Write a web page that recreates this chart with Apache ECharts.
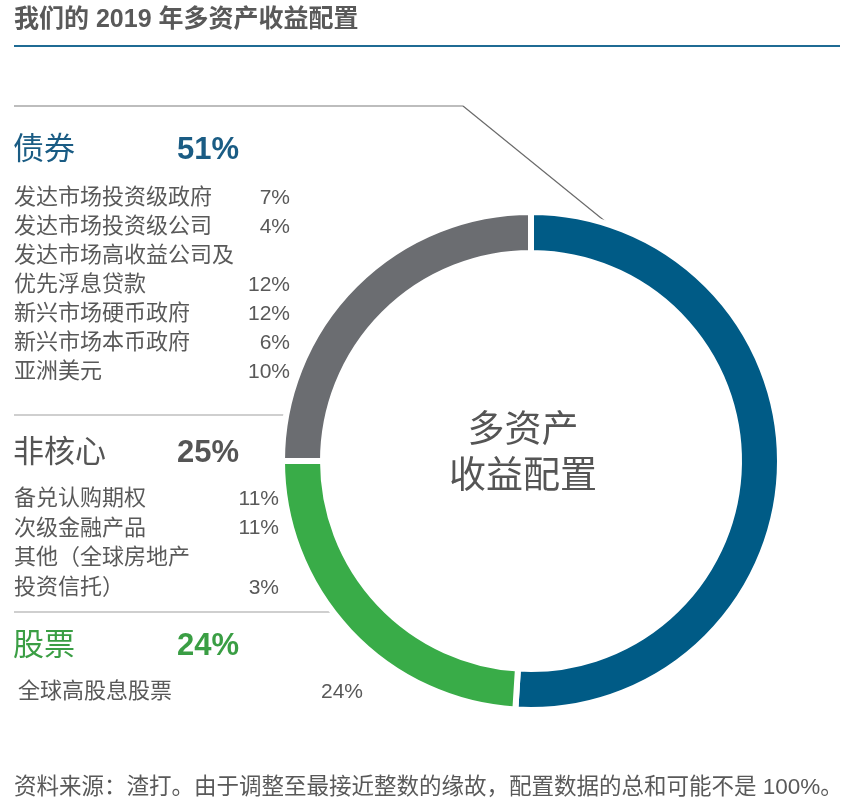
<!DOCTYPE html>
<html><head><meta charset="utf-8">
<script src="https://cdn.jsdelivr.net/npm/echarts@6/dist/echarts.min.js"></script>
<style>html,body{margin:0;padding:0;background:#fff}#c{width:852px;height:810px}</style>
</head><body><div id="c"></div>
<script>
// ---- data ----
const titleText = '我们的 2019 年多资产收益配置';
const centerText = '多资产\n收益配置';
const footText = '资料来源：渣打。由于调整至最接近整数的缘故，配置数据的总和可能不是 100%。';
const groupNames = ['债券', '股票', '非核心'];
const groupValues = [51, 24, 25];
const bondItems = ['发达市场投资级政府', '发达市场投资级公司', '发达市场高收益公司及\n优先浮息贷款', '新兴市场硬币政府', '新兴市场本币政府', '亚洲美元'];
const bondValues = [7, 4, 12, 12, 6, 10];
const noncoreItems = ['备兑认购期权', '次级金融产品', '其他（全球房地产\n投资信托）'];
const noncoreValues = [11, 11, 3];
const equityItems = ['全球高股息股票'];
const equityValues = [24];

// ---- styles ----
const ringColors = ['#005b86', '#39ac48', '#6b6d71'];
const headColors = ['#1a5c84', '#3a9e44', '#555555'];
const FAM = '"Liberation Sans", Arial, "Noto Sans CJK SC", sans-serif';
const txtCol = '#595959';

const chart = echarts.init(document.getElementById('c'), null, {renderer: 'canvas'});
const g = [];
function text(t, x, y, size, color, opts) {
  opts = opts || {};
  g.push({type: 'text', silent: true, style: {
    text: t, x: x, y: y, fill: color,
    font: (opts.bold ? 'bold ' : '') + size + 'px ' + FAM,
    align: opts.align || 'left', verticalAlign: 'middle',
    lineHeight: opts.lineHeight || size * 1.4
  }});
}
function line(x1, y1, x2, y2, color, w) {
  g.push({type: 'line', silent: true, shape: {x1, y1, x2, y2}, style: {stroke: color, lineWidth: w}});
}

// title
text(titleText, 14, 20, 25, '#595959', {bold: true});
line(14, 46, 840, 46, '#1f6b94', 2);
// connector
line(14, 106, 463, 106, '#bdbdbd', 2);
line(463, 106, 617, 231, '#6a6a6a', 1.2);
line(14, 415, 287, 415, '#cfcfcf', 2);
line(14, 612, 333, 612, '#cfcfcf', 2);

const ITEM = 22;
function rows(items, vals, y0, step, vx, tx) {
  let y = y0;
  items.forEach((it, i) => {
    const parts = it.split('\n');
    parts.forEach((p, k) => text(p, tx, y + k * step, ITEM, txtCol));
    y += step * (parts.length - 1);
    text(vals[i] + '%', vx, y, ITEM - 1, txtCol, {align: 'right'});
    y += step;
  });
}
// headers
const headY = [150, 646, 453];
groupNames.forEach((n, i) => {
  text(n, 13, headY[i], 31, headColors[i]);
  text(groupValues[i] + '%', 177, headY[i], 31, headColors[i], {bold: true});
});
rows(bondItems, bondValues, 198, 29, 290, 14);
rows(noncoreItems, noncoreValues, 499, 29.7, 279, 14);
rows(equityItems, equityValues, 692, 29, 363, 18);

// center text
text(centerText, 523, 455, 37, '#555555', {align: 'center', lineHeight: 46});
// foot
text(footText, 14, 788, 22.5, txtCol);

chart.setOption({
  animation: false,
  series: [{
    type: 'pie',
    center: [531, 461],
    radius: [208, 249],
    startAngle: 90,
    clockwise: true,
    silent: true,
    label: {show: false},
    labelLine: {show: false},
    itemStyle: {borderColor: '#ffffff', borderWidth: 6},
    emphasis: {disabled: true},
    data: groupNames.map((n, i) => ({name: n, value: groupValues[i], itemStyle: {color: ringColors[i]}}))
  }],
  graphic: g
});
</script></body></html>
